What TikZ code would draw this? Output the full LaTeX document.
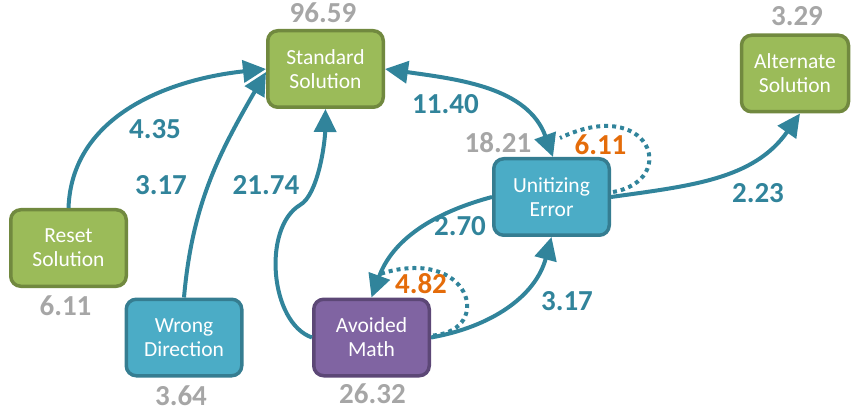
\documentclass[tikz,border=0pt]{standalone}
\usepackage{fontspec}
\setmainfont{Carlito}
\usetikzlibrary{arrows.meta,calc}
\definecolor{gfill}{HTML}{9BBB59}
\definecolor{gline}{HTML}{71893F}
\definecolor{tfill}{HTML}{4BACC6}
\definecolor{tline}{HTML}{357D91}
\definecolor{pfill}{HTML}{8064A2}
\definecolor{pline}{HTML}{5C4776}
\definecolor{arrowc}{HTML}{31849B}
\definecolor{grayc}{HTML}{A6A6A6}
\definecolor{orangec}{HTML}{E46C0A}
\begin{document}
\begin{tikzpicture}[x=1pt,y=1pt,
 box/.style={rectangle, rounded corners=10pt, line width=3.5pt, minimum width=115.5pt, minimum height=76.5pt, inner sep=0pt, align=center, text=white, font=\fontsize{21.5}{24}\selectfont},
 gbox/.style={box, fill=gfill, draw=gline},
 tbox/.style={box, fill=tfill, draw=tline},
 pbox/.style={box, fill=pfill, draw=pline},
 count/.style={anchor=base, text=grayc, inner sep=0pt, font=\fontsize{29}{30}\selectfont\bfseries},
 elabel/.style={anchor=base, text=arrowc, inner sep=0pt, font=\fontsize{29}{30}\selectfont\bfseries},
 slabel/.style={elabel, text=orangec},
 tip/.style={Triangle[length=23pt,width=22pt]},
 conn/.style={draw=arrowc, line width=4pt, -{Triangle[length=23pt,width=22pt]}},
 loopc/.style={draw=arrowc, line width=4pt, dash pattern=on 4pt off 4pt},
]
\useasboundingbox (0,0) rectangle (852,413);

% nodes
\node[gbox] (std) at (325.5,344) {Standard\\Solution};
\node[gbox, minimum width=107pt] (alt) at (795,339.5) {Alternate\\Solution};
\node[tbox] (unit) at (551.5,216) {Unitizing\\Error};
\node[pbox] (avoid) at (371.5,75.5) {Avoided\\Math};
\node[gbox] (reset) at (68.5,165) {Reset\\Solution};
\node[tbox] (wrong) at (184,75.5) {Wrong\\Direction};

% counts
\node[count] (cstd) at (323,390) {96.59};
\node[count] (calt) at (797,387) {3.29};
\node[count] (cunit) at (498,260) {18.21};
\node[count] (creset) at (65.5,98) {6.11};
\node[count] (cwrong) at (181,8) {3.64};
\node[count] (cavoid) at (372.5,10) {26.32};

% connectors
\draw[conn] (reset.north) to[out=88,in=186] (std.west);
\draw[conn] (wrong.north) to[out=85,in=240] ($(std.west)+(0,-3)$);
\coordinate (kink) at (300,208);
\draw[conn] (avoid.west) .. controls (270,90) and (262,185) .. (kink)
  .. controls (318,218) and (325,270) .. (std.south);
\draw[conn, {Triangle[length=23pt,width=22pt]}-{Triangle[length=23pt,width=22pt]}]
  (std.east) to[out=-8,in=110] ($(unit.north)+(1.5,0)$);
\coordinate (uend) at (560,275);
\draw[loopc] ($(unit.east)+(2,5)$) .. controls (680,233) and (650,318) .. (uend);
\draw[conn] (unit.east) to[out=8,in=235] ($(alt.south)+(5,0)$);
\draw[conn] (unit.west) to[out=195,in=70] (avoid.north);
\coordinate (aend) at (380,139);
\draw[loopc] ($(avoid.east)+(2,2)$) .. controls (495,83) and (470,168) .. (aend);
\draw[conn] (avoid.east) to[out=10,in=255] (unit.south);

% edge labels
\node[elabel] (l1) at (155,274) {4.35};
\node[elabel] (l2) at (161,218) {3.17};
\node[elabel] (l3) at (266,218) {21.74};
\node[elabel] (l4) at (445.5,299) {11.40};
\node[slabel] (l5) at (600.5,258) {6.11};
\node[elabel] (l6) at (758,210) {2.23};
\node[elabel] (l7) at (460,178) {2.70};
\node[slabel] (l8) at (421,120) {4.82};
\node[elabel] (l9) at (567,103) {3.17};
\end{tikzpicture}
\end{document}
